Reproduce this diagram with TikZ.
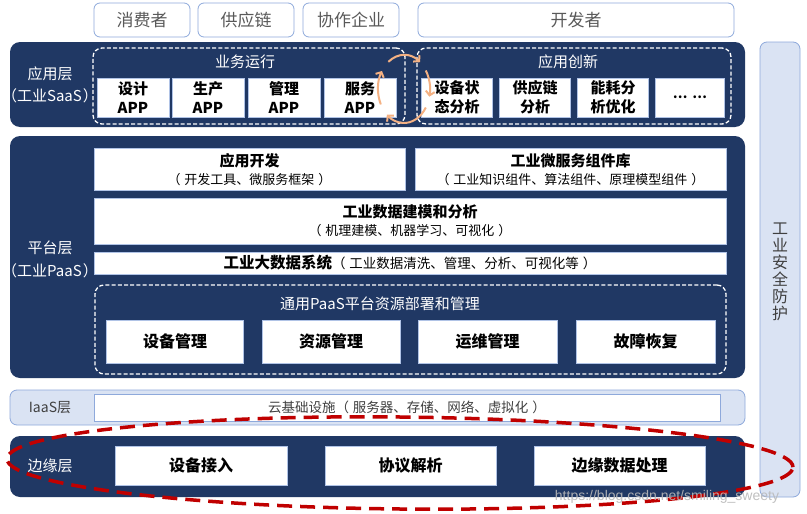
\documentclass[tikz,border=0pt]{standalone}
\usepackage{fontspec}
\setmainfont{Noto Sans CJK SC}
\newfontfamily\wmfont{Liberation Sans}
\usetikzlibrary{arrows.meta}
\definecolor{navy}{HTML}{203864}
\definecolor{lightbl}{HTML}{DAE3F3}
\definecolor{bordbl}{HTML}{8EA9DB}
\definecolor{orng}{HTML}{F4B183}
\definecolor{redd}{HTML}{C00000}
\definecolor{txtgray}{HTML}{595959}
\definecolor{txtdark}{HTML}{404040}
\newcommand\fsz[2]{\fontsize{#1}{#2}\selectfont}
\newcommand\lp{（\hspace{4pt}}
\newcommand\rp{\hspace{4pt}）}
\begin{document}
\begin{tikzpicture}[x=1pt,y=-1pt,
  topbox/.style={draw=bordbl, line width=0.8pt, fill=white, rounded corners=6pt, inner sep=0pt,
    minimum height=34pt, text=txtgray, font=\fsz{17}{20}},
  layerbox/.style={fill=navy, rounded corners=10pt, inner sep=0pt},
  lightbox/.style={fill=lightbl, draw=bordbl, line width=0.8pt, rounded corners=7pt, inner sep=0pt},
  wbox/.style={fill=white, draw=bordbl!70, line width=0.6pt, inner sep=0pt, align=center, text=black},
  dashbox/.style={draw=white, dashed, dash pattern=on 4pt off 2.2pt, line width=1.3pt, rounded corners=9pt, inner sep=0pt},
  lbl/.style={text=white, font=\fsz{15}{18}, inner sep=0pt},
  ttl/.style={text=white, font=\fsz{15}{18}, inner sep=0pt},
  appbox/.style={wbox, minimum width=72pt, minimum height=39pt, font=\bfseries\fsz{15}{19}},
  bigbox/.style={wbox, font=\bfseries\fsz{16}{19}},
  orarc/.style={draw=orng, line width=2pt, -{Straight Barb[length=4pt,width=9pt]}},
]
\useasboundingbox (0,0) rectangle (807,514);
\fill[white] (0,0) rectangle (807,514);

% top actors
\node[topbox, minimum width=96pt] (cons) at (142,20) {消费者};
\node[topbox, minimum width=96pt] (supp) at (246,20) {供应链};
\node[topbox, minimum width=96pt] (coop) at (351,20) {协作企业};
\node[topbox, minimum width=316pt] (dev) at (576,20) {开发者};

% right security bar
\node[lightbox, minimum width=40pt, minimum height=455pt] (sec) at (780,269.5) {};
\node[text=txtdark, font=\fsz{16}{17}, align=center, inner sep=0pt] (sect) at (780,272) {工\\业\\安\\全\\防\\护};

% SaaS layer
\node[layerbox, minimum width=735pt, minimum height=85pt] (saas) at (377.5,84.5) {};
\node[lbl] (saasl1) at (50,74) {应用层};
\node[lbl] (saasl2) at (50,96) {（工业SaaS\hspace{1pt}）};
\node[dashbox, minimum width=312pt, minimum height=76pt] (bizrun) at (249,86) {};
\node[ttl] (bizrunt) at (245,62) {业务运行};
\node[appbox] (app1) at (133,97.5) {设计\\APP};
\node[appbox] (app2) at (208,97.5) {生产\\APP};
\node[appbox] (app3) at (284,97.5) {管理\\APP};
\node[appbox] (app4) at (360,97.5) {服务\\APP};
\node[dashbox, minimum width=314pt, minimum height=76pt] (innov) at (574,86) {};
\node[ttl] (innovt) at (568,62) {应用创新};
\node[appbox, minimum width=71pt] (inn1) at (457,97.5) {设备状\\态分析};
\node[appbox, minimum width=71pt] (inn2) at (535,97.5) {供应链\\分析};
\node[appbox, minimum width=71pt] (inn3) at (613,97.5) {能耗分\\析优化};
\node[appbox, minimum width=69pt, font=\bfseries\fsz{13}{16}] (inn4) at (690,97.5) {…\hspace{5pt}…};

% orange cycle arrows
\coordinate (cyc) at (404,89);
\draw[orarc] (cyc) ++(207:26pt and 34pt) arc[start angle=207, end angle=148, x radius=26pt, y radius=34pt];
\draw[orarc] (cyc) ++(127:26pt and 34pt) arc[start angle=127, end angle=52, x radius=26pt, y radius=34pt];
\draw[orarc] (cyc) ++(33:26pt and 34pt) arc[start angle=33, end angle=-13, x radius=26pt, y radius=34pt];
\draw[orarc] (cyc) ++(-33:26pt and 34pt) arc[start angle=-33, end angle=-131, x radius=26pt, y radius=34pt];

% PaaS layer
\node[layerbox, minimum width=735pt, minimum height=242pt] (paas) at (377.5,257) {};
\node[lbl] (paasl1) at (50,248) {平台层};
\node[lbl] (paasl2) at (50,271) {（工业PaaS\hspace{1pt}）};
\node[wbox, minimum width=311pt, minimum height=42pt] (dev1) at (249.5,169) {};
\node[font=\bfseries\fsz{15}{18}, inner sep=0pt] (dev1a) at (249.5,161) {应用开发};
\node[font=\fsz{13}{16}, inner sep=0pt] (dev1b) at (249.5,180) {\lp 开发工具、微服务框架\rp};
\node[wbox, minimum width=311pt, minimum height=42pt] (micro) at (570.5,169) {};
\node[font=\bfseries\fsz{15}{18}, inner sep=0pt] (microa) at (570.5,161) {工业微服务组件库};
\node[font=\fsz{13}{16}, inner sep=0pt] (microb) at (570.5,180) {\lp 工业知识组件、算法组件、原理模型组件\rp};
\node[wbox, minimum width=632pt, minimum height=46pt] (model) at (410,221) {};
\node[font=\bfseries\fsz{15}{18}, inner sep=0pt] (modela) at (410,212) {工业数据建模和分析};
\node[font=\fsz{13}{16}, inner sep=0pt] (modelb) at (410,231) {\lp 机理建模、机器学习、可视化\rp};
\node[wbox, minimum width=632pt, minimum height=22pt, font=\fsz{13.5}{16}] (bigdata) at (410,263) {{\bfseries\fsz{15.5}{18}工业大数据系统}\lp 工业数据清洗、管理、分析、可视化等\rp};
\node[dashbox, minimum width=631pt, minimum height=89pt] (gen) at (410.5,329.5) {};
\node[ttl] (gent) at (380,304) {通用PaaS平台资源部署和管理};
\node[bigbox, minimum width=137pt, minimum height=43pt] (g1) at (175,341.5) {设备管理};
\node[bigbox, minimum width=138pt, minimum height=43pt] (g2) at (331,341.5) {资源管理};
\node[bigbox, minimum width=139pt, minimum height=43pt] (g3) at (487.5,341.5) {运维管理};
\node[bigbox, minimum width=139pt, minimum height=43pt] (g4) at (645.5,341.5) {故障恢复};

% IaaS layer
\node[lightbox, minimum width=735pt, minimum height=35pt] (iaas) at (377.5,407.5) {};
\node[text=txtdark, font=\fsz{14}{17}, inner sep=0pt] (iaasl) at (50,408) {IaaS层};
\node[wbox, draw=bordbl, minimum width=626pt, minimum height=27pt, font=\fsz{13.5}{16}, text=txtdark] (cloud) at (407,407.5) {云基础设施\lp 服务器、存储、网络、虚拟化\rp};

% edge layer
\node[layerbox, minimum width=735pt, minimum height=61pt] (edge) at (377.5,466.5) {};
\node[lbl] (edgel) at (50,466) {边缘层};
\node[bigbox, minimum width=172pt, minimum height=39pt] (e1) at (201,465.5) {设备接入};
\node[bigbox, minimum width=171pt, minimum height=39pt] (e2) at (410.5,465.5) {协议解析};
\node[bigbox, minimum width=171pt, minimum height=39pt] (e3) at (619.5,465.5) {边缘数据处理};

% red dashed ellipse
\draw[redd, line width=3.5pt, dash pattern=on 15pt off 8pt, rotate around={-0.6:(400,463)}] (400,463) ellipse[x radius=393pt, y radius=46pt];

% watermark
\node[text=gray!55, opacity=0.9, font=\wmfont\fsz{14}{16}, inner sep=0pt] (wm) at (667,497) {https://blog.csdn.net/smiling\_sweety};
\end{tikzpicture}
\end{document}
